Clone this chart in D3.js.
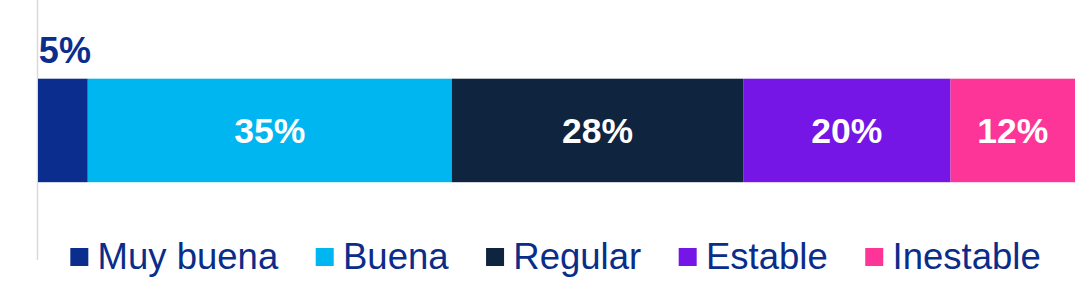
<!DOCTYPE html>
<html>
<head>
<meta charset="utf-8">
<script src="https://cdn.jsdelivr.net/npm/d3@7"></script>
<style>
  html, body { margin: 0; padding: 0; background: #fff; }
  svg { display: block; font-family: "Liberation Sans", Arial, sans-serif; }
</style>
</head>
<body>
<svg id="chart" width="1086" height="296"></svg>
<script>
const categories = ["Muy buena", "Buena", "Regular", "Estable", "Inestable"];
const values = [4.8, 35.1, 28.1, 20.0, 12.0];
const labels = ["5%", "35%", "28%", "20%", "12%"];
const colors = ["#0B2E8E", "#00B6F1", "#0F243E", "#7516E6", "#FE3598"];

const W = 1086, H = 296;
const margin = { left: 38, right: 11, top: 78.7, barH: 103.5 };
const svg = d3.select("#chart");

const x = d3.scaleLinear().domain([0, 100]).range([margin.left, W - margin.right]);
const y = d3.scaleBand().domain(["row"]).range([margin.top, margin.top + margin.barH]).padding(0);

// stack
let acc = 0;
const segs = values.map((v, i) => { const s = { cat: categories[i], x0: acc, x1: acc + v, v, label: labels[i], color: colors[i] }; acc += v; return s; });

// axis line
svg.append("line")
  .attr("x1", margin.left - 0.5).attr("x2", margin.left - 0.5)
  .attr("y1", 0).attr("y2", 260)
  .attr("stroke", "#d9d9d9").attr("stroke-width", 1.5);

svg.append("g").selectAll("rect").data(segs).join("rect")
  .attr("x", d => x(d.x0))
  .attr("width", d => x(d.x1) - x(d.x0))
  .attr("y", y("row"))
  .attr("height", y.bandwidth())
  .attr("fill", d => d.color);

const cy = y("row") + y.bandwidth() / 2;
svg.append("g").selectAll("text").data(segs).join("text")
  .attr("x", (d, i) => i === 0 ? (x(d.x0) + x(d.x1)) / 2 + 2 : (x(d.x0) + x(d.x1)) / 2)
  .attr("y", (d, i) => i === 0 ? 63.3 : cy + 12.8)
  .attr("text-anchor", "middle")
  .attr("font-weight", "bold")
  .attr("font-size", (d, i) => i === 0 ? 36 : 35.5)
  .attr("fill", (d, i) => i === 0 ? "#0B2E8E" : "#ffffff")
  .text(d => d.label);

// legend
const lg = svg.append("g");
const items = lg.selectAll("g").data(categories).join("g");
items.append("rect").attr("width", 18).attr("height", 18).attr("y", 248)
  .attr("fill", (d, i) => colors[i]);
items.append("text").attr("x", 27.3).attr("y", 269)
  .attr("font-size", 36.5).attr("fill", "#0A2D8A").text(d => d);
let pos = 0;
const offs = [];
items.each(function () {
  const w = this.querySelector("text").getComputedTextLength();
  offs.push(pos);
  pos += 27.3 + w + 37.5;
});
const total = pos - 37.5;
const start = (x(0) + x(100)) / 2 - total / 2 - 1;
items.attr("transform", (d, i) => `translate(${start + offs[i]},0)`);
</script>
</body>
</html>
